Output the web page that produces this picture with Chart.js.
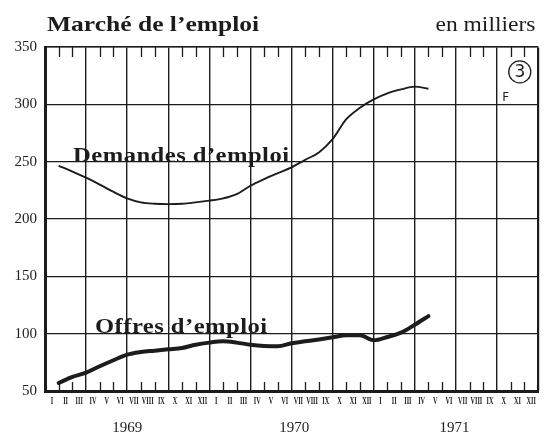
<!DOCTYPE html>
<html><head><meta charset="utf-8">
<script src="https://cdn.jsdelivr.net/npm/chart.js@4/dist/chart.umd.min.js"></script>
<style>
html,body{margin:0;padding:0;background:#fff;}
#wrap{position:relative;width:545px;height:437px;overflow:hidden;}
canvas{position:absolute;left:0;top:0;}
.t{position:absolute;font-family:"Liberation Serif",serif;color:#1c1c1c;white-space:nowrap;line-height:1;}
#title{left:47px;top:13px;font-size:22px;font-weight:bold;transform:scaleX(1.16);transform-origin:left center;}
#unit{right:10px;top:13px;font-size:22px;transform:scaleX(1.07);transform-origin:right center;}
</style></head><body>
<div id="wrap"><canvas id="c" width="545" height="437"></canvas>
<div class="t" id="title">Marché de l’emploi</div>
<div class="t" id="unit">en milliers</div></div>
<script>
// ---- data ----
const monthLabels = ['I','II','III','IV','V','VI','VII','VIII','IX','X','XI','XII'];
const yearLabels = ['1969','1970','1971'];
const yTicks = [50,100,150,200,250,300,350];
// one value per month, Jan 1969 .. Apr 1971 (plotted at month end)
const demandes = [246.4,241.4,236,230,223.6,218,214.5,213.3,213,213.3,214.5,216,218,221.7,229,234.8,240,245,251.6,258,269.6,287,297,304.3,309.6,313,315.4,313.6];
const offres = [57,62.3,66,71.6,76.8,81.7,84,85.2,86.4,87.5,90.4,92.2,93.3,92.2,90.4,89.3,89,91.6,93.3,95,96.8,98.6,98.6,94.2,97.1,100.9,107.8,115.3];
const seriesNames = ['Demandes d’emploi','Offres d’emploi'];

const INK = '#1c1c1c';
const SERIF = '"Liberation Serif", serif';
const NMONTHS = 36;

const toPts = arr => arr.map((v,i)=>({x:i+1,y:v}));

const annot = {
  id:'annot',
  afterDatasetsDraw(chart){
    const {ctx, scales:{xg,y}} = chart;
    ctx.save();
    ctx.fillStyle = INK;
    ctx.textBaseline = 'alphabetic';
    ctx.textAlign = 'left';
    ctx.font = 'bold 22px ' + SERIF;
    ctx.letterSpacing = '0.4px';
    const put = (txt, xv, yv) => {
      ctx.save();
      ctx.translate(xg.getPixelForValue(xv), y.getPixelForValue(yv));
      ctx.scale(1.12,1);
      ctx.fillText(txt, 0, 0);
      ctx.restore();
    };
    put(seriesNames[0], 2.05, 250);
    put(seriesNames[1], 3.65, 100.5);
    ctx.letterSpacing = '0px';
    // circled 3
    const cx = xg.getPixelForValue(34.67), cy = y.getPixelForValue(328.3);
    ctx.lineWidth = 1.3; ctx.strokeStyle = INK;
    ctx.beginPath(); ctx.arc(cx, cy, 11, 0, Math.PI*2); ctx.stroke();
    ctx.textAlign='center'; ctx.textBaseline='middle';
    ctx.font = '17px "DejaVu Sans", sans-serif';
    ctx.fillText('3', cx, cy+1);
    ctx.font = '12px "DejaVu Sans", sans-serif';
    ctx.fillText('F', xg.getPixelForValue(33.65), y.getPixelForValue(306));
    ctx.restore();
  }
};
const monthTicks = {
  id:'monthTicks',
  afterDatasetsDraw(chart){
    const {ctx, chartArea:a, scales:{xg,x}} = chart;
    ctx.save(); ctx.strokeStyle = INK; ctx.lineWidth = 1.3;
    for(let k=1;k<NMONTHS;k++){
      if(k%3===0) continue;
      const px = Math.round(xg.getPixelForValue(k))+0.5;
      ctx.beginPath();
      ctx.moveTo(px,a.bottom); ctx.lineTo(px,a.bottom-9);
      ctx.moveTo(px,a.top); ctx.lineTo(px,a.top+10);
      ctx.stroke();
    }
    // condensed roman month labels, placed by the month axis
    ctx.fillStyle = INK; ctx.textAlign='center'; ctx.textBaseline='middle';
    ctx.font = 'bold 10px ' + SERIF;
    x.ticks.forEach((t,i)=>{
      ctx.save();
      ctx.translate(x.getPixelForValue(t.value), x.top + 10.5);
      ctx.scale(0.62,1);
      ctx.fillText(monthLabels[i%12], 0, 0);
      ctx.restore();
    });
    ctx.restore();
  }
};

new Chart(document.getElementById('c'), {
  type:'line',
  data:{datasets:[
    {label:seriesNames[0], data:toPts(demandes), borderColor:INK, borderWidth:1.9, pointRadius:0, cubicInterpolationMode:'monotone', xAxisID:'x', yAxisID:'y'},
    {label:seriesNames[1], data:toPts(offres), borderColor:INK, borderWidth:4, pointRadius:0, cubicInterpolationMode:'monotone', borderCapStyle:'round', xAxisID:'x', yAxisID:'y'}
  ]},
  options:{
    responsive:false, animation:false,
    layout:{padding:{top:47,right:7,left:0,bottom:0}},
    plugins:{legend:{display:false}, tooltip:{enabled:false}},
    scales:{
      x:{type:'linear', position:'bottom', min:0, max:NMONTHS, weight:0,
        afterBuildTicks:s=>{ s.ticks = Array.from({length:NMONTHS},(_,k)=>({value:k+0.5})); },
        afterFit:s=>{ s.height = 20; },
        grid:{display:false},
        border:{display:true, color:INK, width:3},
        ticks:{display:false}
      },
      xy:{type:'linear', position:'bottom', min:0, max:NMONTHS, weight:1,
        afterBuildTicks:s=>{ s.ticks = [6,18.2,29.9].map(v=>({value:v})); },
        afterFit:s=>{ s.height = 26; },
        grid:{display:false}, border:{display:false},
        ticks:{autoSkip:false, maxRotation:0, padding:0, color:INK,
          font:{family:SERIF, size:15},
          callback:(v,i)=>yearLabels[i]}
      },
      xg:{type:'linear', position:'top', min:0, max:NMONTHS,
        afterBuildTicks:s=>{ s.ticks = Array.from({length:NMONTHS/3+1},(_,k)=>({value:k*3})); },
        afterFit:s=>{ s.height = 0; },
        grid:{display:true, drawTicks:false, color:INK, lineWidth:c=>c.index===NMONTHS/3?2.2:1.4},
        border:{display:true, color:INK, width:1.6},
        ticks:{display:false}
      },
      y:{type:'linear', position:'left', min:50, max:350,
        afterBuildTicks:s=>{ s.ticks = yTicks.map(v=>({value:v})); },
        afterFit:s=>{ s.width = 45; },
        grid:{display:true, drawTicks:false, color:INK, lineWidth:1.3},
        border:{display:true, color:INK, width:3},
        ticks:{padding:8, color:'#222', font:{family:SERIF, size:15}}
      }
    }
  },
  plugins:[monthTicks, annot]
});
</script>
</body></html>
